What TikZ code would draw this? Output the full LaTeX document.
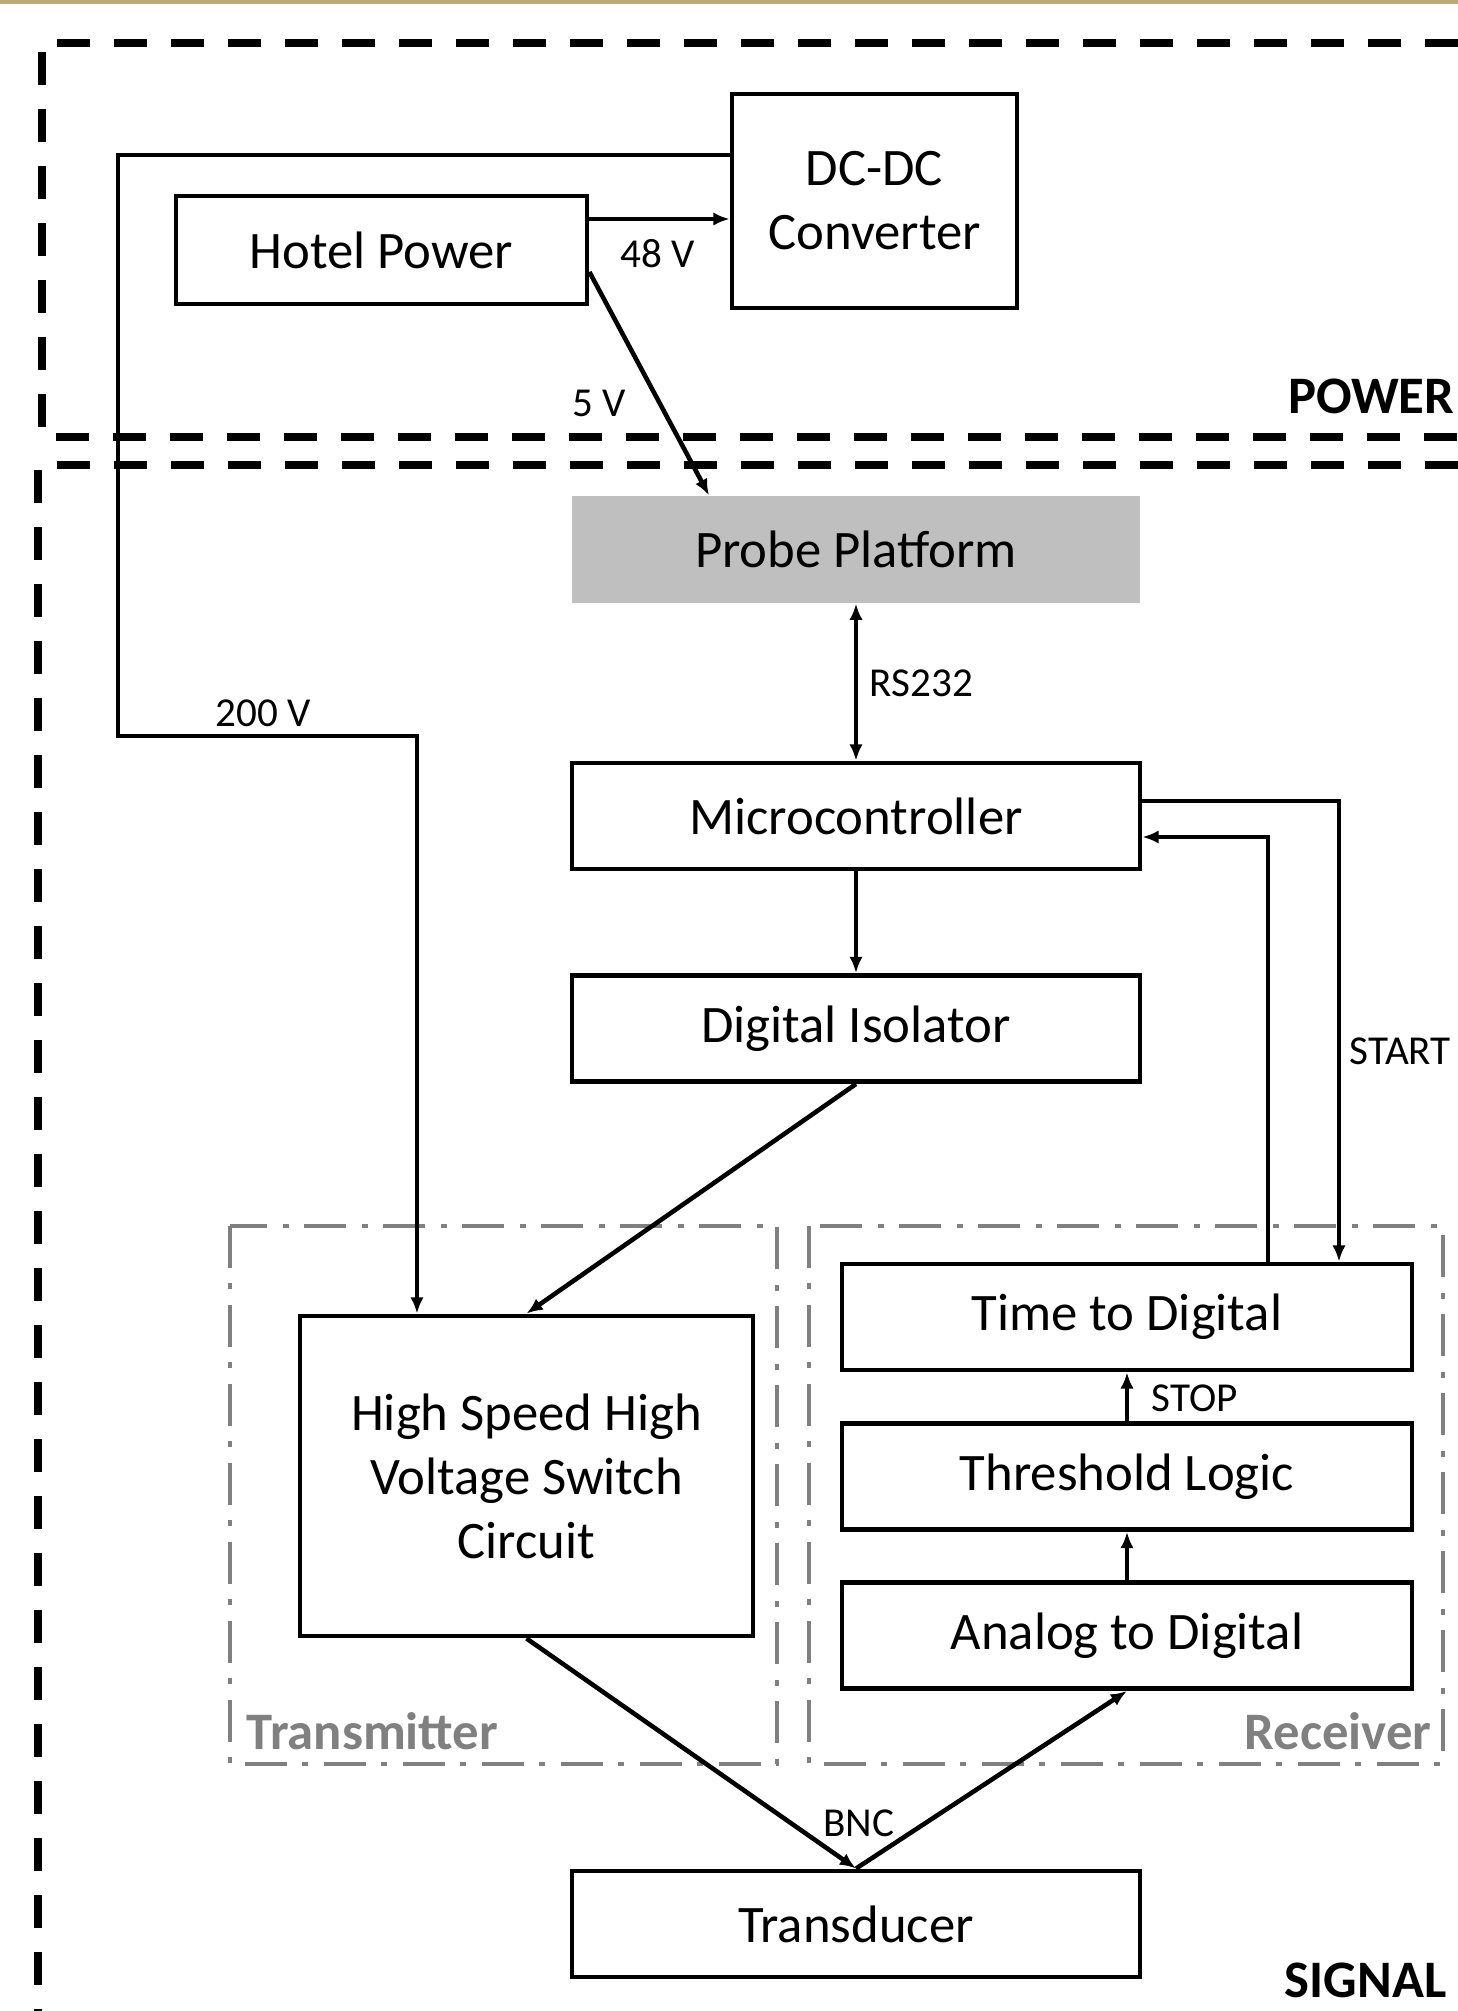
\documentclass[tikz,border=0pt]{standalone}
\usepackage{fontspec}
\setmainfont{Carlito}
\usetikzlibrary{arrows.meta, positioning, calc}
\definecolor{framegray}{RGB}{128,128,128}
\definecolor{platgray}{RGB}{191,191,191}
\definecolor{rulegold}{RGB}{190,170,120}

\tikzset{
  block/.style={draw, line width=1.4pt, minimum width=5.68cm, minimum height=1.06cm, inner sep=0pt, align=center, font=\fontsize{15}{18.2}\selectfont},
  wire/.style={line width=1.3pt},
  feed/.style={wire, -{Latex[length=4.6pt,width=3.8pt]}},
  tag/.style={inner sep=0pt, font=\fontsize{11.7}{14}\selectfont},
  zone/.style={line width=2.1pt, dash pattern=on 3.3mm off 2.4mm},
  zonetag/.style={inner sep=0pt, font=\bfseries\fontsize{15}{18}\selectfont},
  stage/.style={draw=framegray, line width=1.4pt, dash pattern=on 4.2mm off 1.5mm on 0.6mm off 1.6mm},
  stagetag/.style={inner sep=0pt, text=framegray, font=\bfseries\fontsize{15}{18}\selectfont}
}

\begin{document}
\begin{tikzpicture}
  \useasboundingbox (0,0) rectangle (14.58,-20.11);
  \fill[rulegold] (0,0) rectangle (14.58,-0.035);

  % Power section
  \draw[zone] (14.58,-0.43) -- (0.42,-0.43) -- (0.42,-4.37) -- (14.58,-4.37);
  \node[zonetag, anchor=east] (powertag) at (14.55,-3.96) {POWER};

  \node[block, minimum width=2.85cm, minimum height=2.14cm] (dcdc) at (8.745,-2.01) {DC-DC\\Converter};
  \node[block, minimum width=4.11cm, minimum height=1.08cm] (hotel) at (3.815,-2.50) {Hotel Power};

  % Signal section
  \draw[zone] (14.58,-4.65) -- (0.38,-4.65) -- (0.38,-20.11);
  \node[zonetag, anchor=east] (signaltag) at (14.47,-19.80) {SIGNAL};

  % Transmitter / receiver groups
  \draw[stage] (2.30,-12.26) rectangle (7.77,-17.64);
  \draw[stage] (8.09,-12.26) rectangle (14.43,-17.64);
  \node[stagetag, anchor=west] (txtag) at (2.46,-17.31) {Transmitter};
  \node[stagetag, anchor=east] (rxtag) at (14.32,-17.31) {Receiver};

  % Blocks
  \node[fill=platgray, minimum width=5.68cm, minimum height=1.07cm, inner sep=0pt, font=\fontsize{15}{18.2}\selectfont] (probe) at (8.56,-5.495) {Probe Platform};
  \node[block] (mcu) at (8.56,-8.16) {Microcontroller};
  \node[block] (iso) at (8.56,-10.285) {Digital Isolator};
  \node[block, minimum width=4.53cm, minimum height=3.20cm] (hvsw) at (5.265,-14.76) {High Speed High\\Voltage Switch\\Circuit};
  \node[block, minimum width=5.70cm] (tdc) at (11.27,-13.17) {Time to Digital};
  \node[block, minimum width=5.70cm] (thr) at (11.27,-14.765) {Threshold Logic};
  \node[block, minimum width=5.70cm] (adc) at (11.27,-16.355) {Analog to Digital};
  \node[block] (xdcr) at (8.56,-19.24) {Transducer};

  % Power lines
  \coordinate (hvbend) at (1.18,-1.55);
  \coordinate (hvdrop) at (4.17,-7.36);
  \draw[feed] (dcdc.west |- hvbend) -- (hvbend) |- (hvdrop) -- (hvdrop |- hvsw.north);
  \draw[feed] ([yshift=3.1mm]hotel.east) coordinate (h48) -- (h48 -| dcdc.west);
  \draw[feed] ([yshift=-2.2mm]hotel.east) -- ([xshift=-14.7mm]probe.north);
  \node[tag] (v48) at (6.58,-2.54) {48 V};
  \node[tag] (v5) at (5.99,-4.03) {5 V};
  \node[tag] (v200) at (2.63,-7.13) {200 V};

  % Signal lines
  \draw[wire, {Latex[length=4.6pt,width=3.8pt]}-{Latex[length=4.6pt,width=3.8pt]}] (probe.south) -- (mcu.north);
  \node[tag, anchor=west] (rs) at (8.69,-6.83) {RS232};
  \draw[feed] (mcu.south) -- (iso.north);
  \draw[feed] (iso.south) -- (hvsw.north);
  \draw[feed] ([yshift=1.5mm]mcu.east) -| ([xshift=21.2mm]tdc.north);
  \draw[feed] ([xshift=14.1mm]tdc.north) |- ([yshift=-2.1mm]mcu.east);
  \node[tag, anchor=west] (start) at (13.49,-10.51) {START};
  \draw[feed] (thr.north) -- (tdc.south);
  \node[tag, anchor=west] (stop) at (11.51,-13.98) {STOP};
  \draw[feed] (adc.north) -- (thr.south);
  \draw[feed] (hvsw.south) -- (xdcr.north);
  \draw[feed] (xdcr.north) -- (adc.south);
  \node[tag] (bnc) at (8.59,-18.23) {BNC};
\end{tikzpicture}
\end{document}
